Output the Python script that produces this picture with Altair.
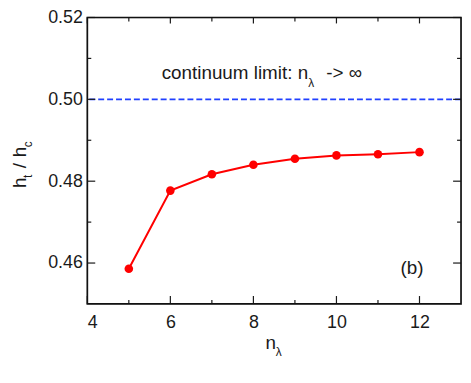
import altair as alt
import pandas as pd

# ---- data ----
n_lambda = [5, 6, 7, 8, 9, 10, 11, 12]
ratio = [0.4586, 0.4777, 0.4817, 0.4840, 0.4855, 0.4863, 0.4866, 0.4871]
continuum_limit = [0.50]

x_major = [4, 6, 8, 10, 12]
x_minor = [5, 7, 9, 11]
y_major = [0.46, 0.48, 0.50, 0.52]
y_minor = [0.47, 0.49, 0.51]

W, H = 377, 289
FONT = "Liberation Sans"
FS = 18
INK = "#1a1a1a"

xs = alt.Scale(domain=[4, 13], nice=False, zero=False)
ys = alt.Scale(domain=[0.45, 0.52], nice=False, zero=False)

df = pd.DataFrame({"n": n_lambda, "r": ratio})

line = alt.Chart(df).mark_line(color="#ff0000", strokeWidth=2).encode(
    x=alt.X("n:Q", scale=xs, axis=alt.Axis(values=x_major, ticks=False, domain=False,
                                             grid=False, title=None, labelFontSize=FS,
                                             labelFont=FONT, labelColor=INK,
                                             labelPadding=10, format="d")),
    y=alt.Y("r:Q", scale=ys, axis=alt.Axis(values=y_major, ticks=False, domain=False,
                                             grid=False, title=None, labelFontSize=FS,
                                             labelFont=FONT, labelColor=INK,
                                             labelPadding=5, format=".2f")),
)
pts = alt.Chart(df).mark_point(filled=True, shape="circle", size=75, color="#ff0000", opacity=1).encode(
    x=alt.X("n:Q", scale=xs), y=alt.Y("r:Q", scale=ys)
)

dash = alt.Chart(pd.DataFrame({"y": continuum_limit})).mark_rule(
    color="#2040ff", strokeWidth=1.7, strokeDash=[6, 3]
).encode(y=alt.Y("y:Q", scale=ys))

frame = alt.Chart(pd.DataFrame({"f": [1]})).mark_rect(
    fill="transparent", stroke="#111111", strokeWidth=1.7, strokeOpacity=1
).encode(x=alt.value(0), x2=alt.value(W), y=alt.value(0), y2=alt.value(H))


def xticks(vals, length_b, length_t):
    d = pd.DataFrame({"v": vals})
    b = alt.Chart(d).mark_rule(color=INK, strokeWidth=1.2).encode(
        x=alt.X("v:Q", scale=xs), y=alt.value(H), y2=alt.value(H - length_b))
    t = alt.Chart(d).mark_rule(color=INK, strokeWidth=1.2).encode(
        x=alt.X("v:Q", scale=xs), y=alt.value(0), y2=alt.value(length_t))
    return [b, t]


def yticks(vals, length):
    d = pd.DataFrame({"v": vals})
    l = alt.Chart(d).mark_rule(color=INK, strokeWidth=1.2).encode(
        y=alt.Y("v:Q", scale=ys), x=alt.value(0), x2=alt.value(length))
    r = alt.Chart(d).mark_rule(color=INK, strokeWidth=1.2).encode(
        y=alt.Y("v:Q", scale=ys), x=alt.value(W), x2=alt.value(W - length))
    return [l, r]


ticks = xticks(x_major, 8, 6) + xticks(x_minor, 4, 4) + yticks(y_major, 8) + yticks(y_minor, 4)


def txt(s, x, y, size=FS, align="left", baseline="alphabetic", angle=0):
    return alt.Chart(pd.DataFrame({"t": [s]})).mark_text(
        font=FONT, fontSize=size, align=align, baseline=baseline, angle=angle, color=INK
    ).encode(text="t:N", x=alt.value(x), y=alt.value(y))


texts = [
    # annotation
    txt("continuum limit: n", 75, 62, 19),
    txt("λ", 223, 70, 12),
    txt("-> ∞", 241, 62, 19),
    # panel label
    txt("(b)", 316, 259, 19),
    # x title
    txt("n", 185, 334, 19, align="center"),
    txt("λ", 190, 341, 12),
    # y title (rotated)
    txt("h", -62, 172, 19, angle=270),
    txt("t", -56, 162, 12, angle=270),
    txt("/", -62, 152, 19, angle=270),
    txt("h", -62, 141, 19, angle=270),
    txt("c", -56, 131, 12, angle=270),
]

chart = alt.layer(dash, line, pts, *ticks, frame, *texts).properties(
    width=W, height=H,
    autosize=alt.AutoSizeParams(type="none"),
    padding={"left": 80, "top": 8, "right": 2, "bottom": 60},
).configure_view(stroke=None).configure(background="white")

chart.save("out.html", embed_options={"renderer": "svg", "actions": False})
